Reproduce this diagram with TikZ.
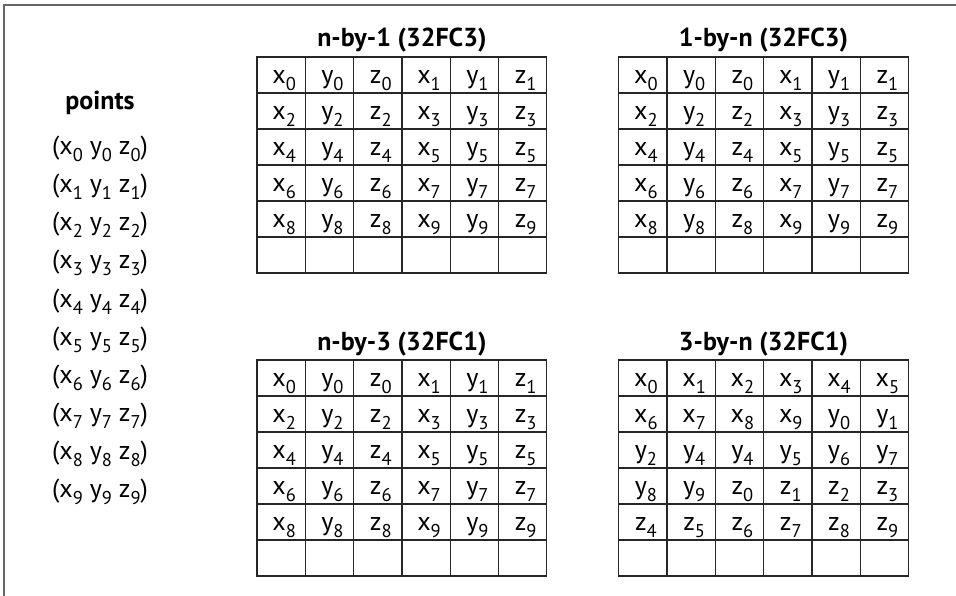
\documentclass[tikz,border=0pt]{standalone}
\usepackage{fontspec}
\setmainfont{PT Sans}
\newcommand{\sub}[1]{\raisebox{-7pt}{\fontsize{18.5}{18.5}\selectfont #1}}

\begin{document}
\begin{tikzpicture}[
    x=1pt, y=-1pt,
    frame/.style={black!60, line width=2pt},
    cell/.style={draw=black!85, line width=1.2pt, minimum width=48.3pt,
        minimum height=36pt, inner sep=0pt, text height=16.5pt, text depth=0pt,
        font=\fontsize{26}{26}\selectfont, execute at begin node=\hspace*{6pt}},
    point_text/.style={anchor=base, font=\fontsize{26}{26}\selectfont},
    head/.style={anchor=base, font=\fontsize{26}{26}\selectfont\bfseries}
]
    \useasboundingbox (0,0) rectangle (956,596);
    % Rahmen
    \draw[frame] (956,5) -| (3.5,596);
    % Punkte
    \node[head] (points) at (100,110) {points};
    \foreach \k in {0,...,9}
        \node[point_text] (pt\k) at (100,155+38*\k) {(x\sub{\k} y\sub{\k} z\sub{\k})};
    % Ueberschriften
    \node[head] (nby1-title) at (401.9,47) {n-by-1 (32FC3)};
    \node[head] (1byn-title) at (763.6,47) {1-by-n (32FC3)};
    \node[head] (nby3-title) at (401.9,350) {n-by-3 (32FC1)};
    \node[head] (3byn-title) at (763.6,350) {3-by-n (32FC1)};
    % Tabellen mit x y z je Zeile
    \foreach \tab/\tx/\ty in {nby1/257/57, 1byn/618.7/57, nby3/257/360}
        \foreach \r in {0,...,4}
            \foreach \c/\v in {0/x,1/y,2/z,3/x,4/y,5/z} {
                \pgfmathtruncatemacro{\n}{2*\r+(\c>2)}
                \node[cell] (\tab-\r-\c) at (\tx+48.3*\c+24.15, \ty+36*\r+18) {\v\sub{\n}};
            }
    % Tabelle 3-by-n
    \foreach \v/\n [count=\i from 0] in {x/0,x/1,x/2,x/3,x/4,x/5, x/6,x/7,x/8,x/9,y/0,y/1,
            y/2,y/4,y/4,y/5,y/6,y/7, y/8,y/9,z/0,z/1,z/2,z/3, z/4,z/5,z/6,z/7,z/8,z/9} {
        \pgfmathtruncatemacro{\r}{\i/6}
        \pgfmathtruncatemacro{\c}{mod(\i,6)}
        \node[cell] (3byn-\r-\c) at (618.7+48.3*\c+24.15, 360+36*\r+18) {\v\sub{\n}};
    }
    % leere Zeile
    \foreach \tab/\tx/\ty in {nby1/257/57, 1byn/618.7/57, nby3/257/360, 3byn/618.7/360}
        \foreach \c in {0,...,5}
            \node[cell] (\tab-5-\c) at (\tx+48.3*\c+24.15, \ty+198) {};
\end{tikzpicture}
\end{document}
